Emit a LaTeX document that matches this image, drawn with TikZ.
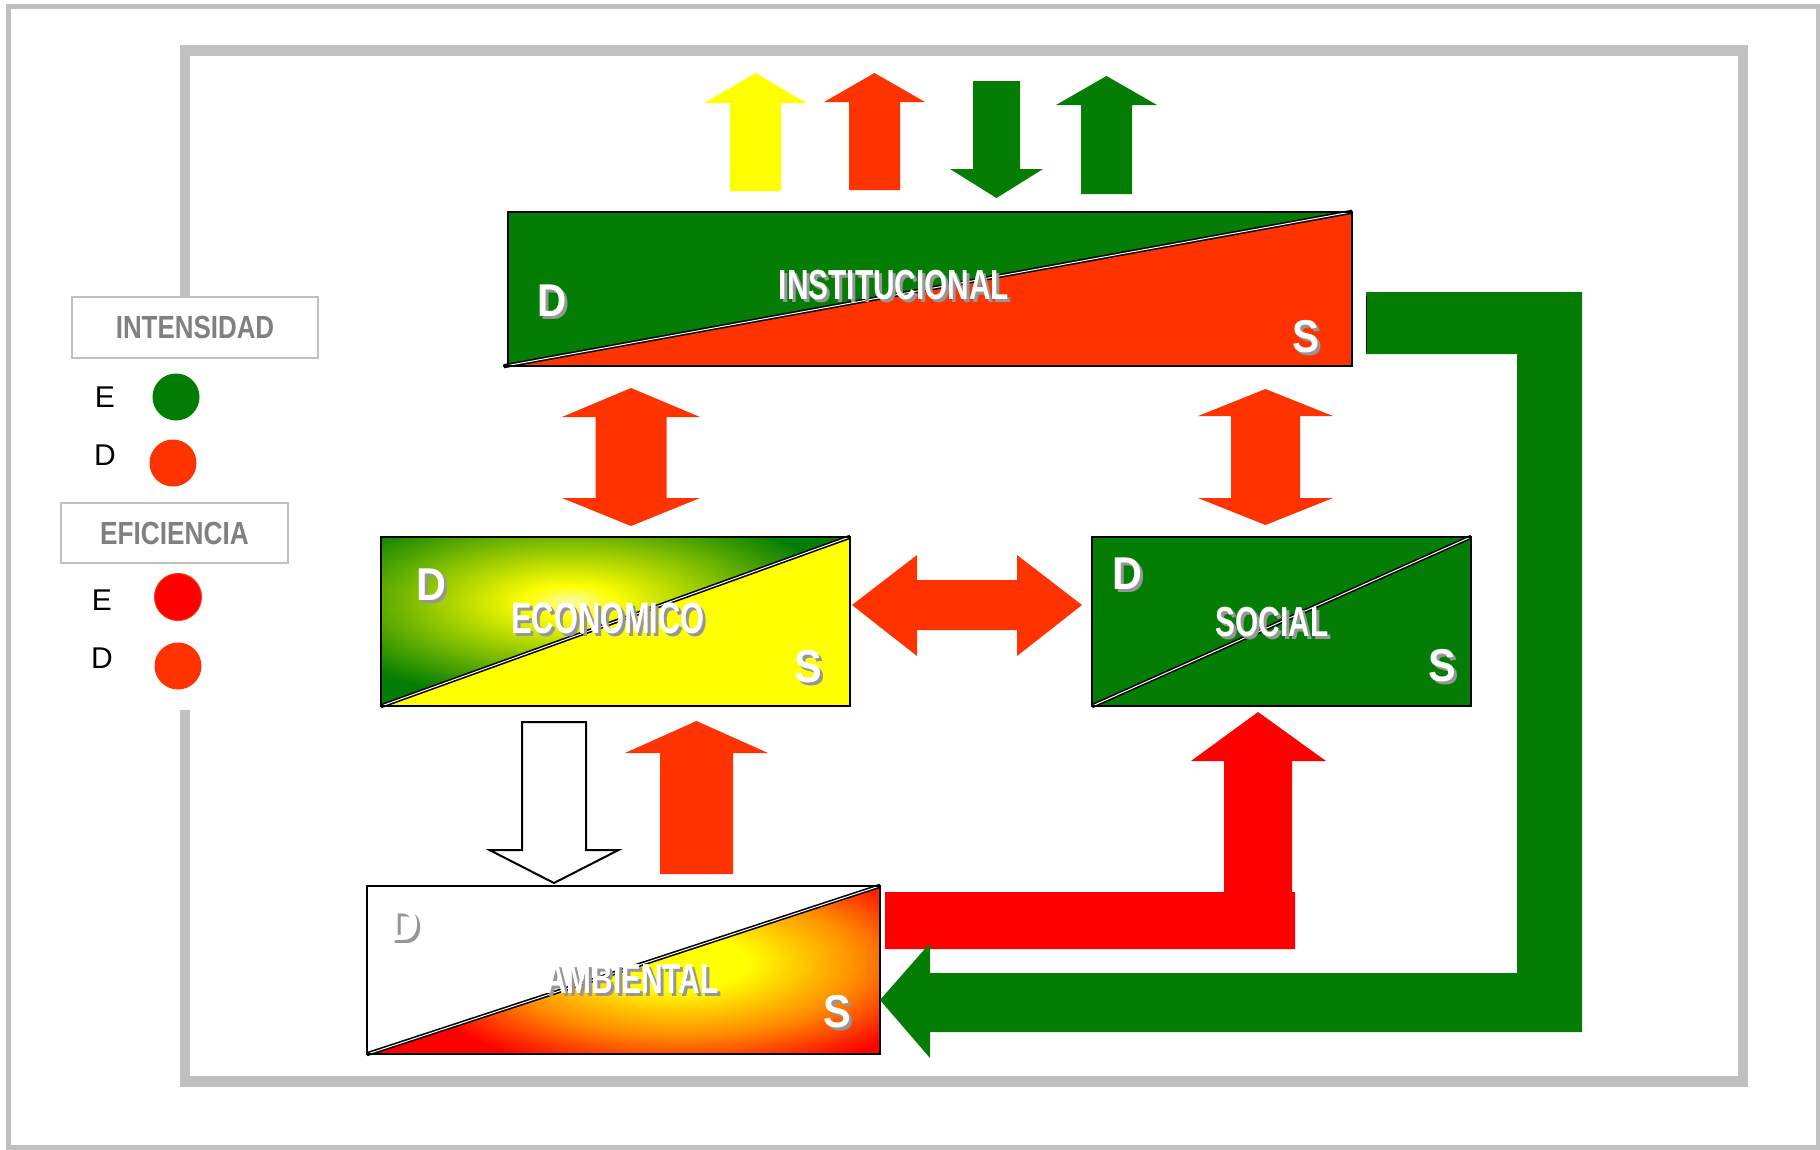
\documentclass[tikz,border=0pt]{standalone}
\usepackage{fontspec}
\setmainfont{Liberation Sans}
\usepackage{graphicx}
\usetikzlibrary{calc}
\definecolor{dgreen}{RGB}{3,125,3}
\definecolor{ored}{RGB}{255,51,0}
\definecolor{pred}{RGB}{255,0,0}
\definecolor{pyellow}{RGB}{255,255,0}
\definecolor{framegray}{RGB}{192,192,192}
\definecolor{shadowgray}{RGB}{150,150,150}
\definecolor{legendgray}{RGB}{128,128,128}
\definecolor{ecolight}{RGB}{250,250,170}
\definecolor{amborange}{RGB}{255,140,0}
\pgfdeclareradialshading{ecoshade}{\pgfpointorigin}{color(0bp)=(ecolight); color(4bp)=(pyellow); color(24bp)=(dgreen); color(50bp)=(dgreen)}
\pgfdeclareradialshading{ambshade}{\pgfpointorigin}{color(0bp)=(pyellow); color(6bp)=(pyellow); color(16bp)=(amborange); color(25bp)=(pred); color(50bp)=(pred)}
\newcommand{\uparrowblk}[8]{% style, cx, tip, base, headhw, shafthw, end
  \path[#1] (#2,#3) -- (#2+#5,#4) -- (#2+#6,#4) -- (#2+#6,#7) -- (#2-#6,#7) -- (#2-#6,#4) -- (#2-#5,#4) -- cycle;}
\newcommand{\dblvert}[8]{% color, cx, toptip, topbase, botbase, bottip, headhw, shafthw
  \fill[#1] (#2,#3) -- (#2+#7,#4) -- (#2+#8,#4) -- (#2+#8,#5) -- (#2+#7,#5) -- (#2,#6) -- (#2-#7,#5) -- (#2-#8,#5) -- (#2-#8,#4) -- (#2-#7,#4) -- cycle;}
\newcommand{\dstext}[6]{% name, x, y, size, xscale, text
  \node[inner sep=0pt, text=shadowgray, font=\fontsize{#4pt}{#4pt}\selectfont\bfseries] at (#2+3,#3+3) {\scalebox{#5}[1]{#6}};
  \node[inner sep=0pt, text=white, font=\fontsize{#4pt}{#4pt}\selectfont\bfseries] (#1) at (#2,#3) {\scalebox{#5}[1]{#6}};}
\begin{document}
\begin{tikzpicture}[x=1pt,y=-1pt,
  boxn/.style={rectangle, inner sep=0pt, draw=none},
  boxborder/.style={draw=black, line width=2.5pt},
  diag/.style={draw=black, line width=1.6pt, double=white, double distance=1pt},
  legbox/.style={rectangle, draw=framegray, line width=2pt, inner sep=0pt, text=legendgray, font=\fontsize{32pt}{32pt}\selectfont\bfseries},
  legletter/.style={inner sep=0pt, font=\fontsize{30pt}{30pt}\selectfont},
  dot/.style={circle, inner sep=0pt, minimum size=47pt}]
\useasboundingbox (0,0) rectangle (1820,1149);
\fill[white] (0,0) rectangle (1820,1149);
% frames
\draw[framegray, line width=5pt] (8,6.5) rectangle (1818,1147.5);
\draw[framegray, line width=10.5pt] (185,296) -- (185,50.5) -- (1743,50.5) -- (1743,1081.5) -- (185,1081.5) -- (185,710);
% legend
\node[legbox, minimum width=246pt, minimum height=61pt] (intens) at (195,327.5) {\scalebox{0.81}[1]{INTENSIDAD}};
\node[legletter] (ie) at (105,397) {E};
\node[dot, fill=dgreen] (iedot) at (176,397) {};
\node[legletter] (id) at (105,455) {D};
\node[dot, fill=ored] (iddot) at (173,463) {};
\node[legbox, minimum width=227pt, minimum height=60pt] (efic) at (174.5,533) {\scalebox{0.82}[1]{EFICIENCIA}};
\node[legletter] (ee) at (102,600) {E};
\node[dot, fill=pred, draw=ored, line width=1pt] (eedot) at (178,597) {};
\node[legletter] (ed) at (102,658) {D};
\node[dot, fill=ored] (eddot) at (178,666) {};
% INSTITUCIONAL
\node[boxn, minimum width=844pt, minimum height=154pt] (inst) at (930,289) {};
\fill[dgreen] (inst.south west) -- (inst.north west) -- (inst.north east) -- cycle;
\fill[ored] (inst.south west) -- (inst.south east) -- (inst.north east) -- cycle;
\draw[diag] ($(inst.south west)+(-4,0)$) -- (inst.north east);
\draw[boxborder] (inst.south west) rectangle (inst.north east);
\draw[black, line width=2.5pt] ($(inst.south west)+(-5,0)$) -- (inst.south west);
\dstext{instlbl}{894}{285}{42}{0.71}{INSTITUCIONAL}
\dstext{instd}{552}{301}{46}{0.88}{D}
\dstext{insts}{1306}{337}{46}{0.88}{S}
% ECONOMICO
\node[boxn, minimum width=469pt, minimum height=169pt] (eco) at (615.5,621.5) {};
\begin{scope}
\clip (eco.south west) -- (eco.north west) -- (eco.north east) -- cycle;
\fill[dgreen] (eco.south west) rectangle (eco.north east);
\shade[shading=ecoshade] (570,602) ellipse [x radius=280, y radius=105];
\end{scope}
\fill[pyellow] (eco.south west) -- (eco.south east) -- (eco.north east) -- cycle;
\draw[diag] (eco.south west) -- (eco.north east);
\draw[boxborder] (eco.south west) rectangle (eco.north east);
\dstext{ecolbl}{608}{618}{44}{0.70}{ECONOMICO}
\dstext{ecod}{431}{585}{46}{0.9}{D}
\dstext{ecos}{808}{667}{46}{0.9}{S}
% SOCIAL
\node[boxn, minimum width=379pt, minimum height=169pt] (soc) at (1281.5,621.5) {};
\fill[dgreen] (soc.south west) rectangle (soc.north east);
\draw[diag] (soc.south west) -- (soc.north east);
\draw[boxborder] (soc.south west) rectangle (soc.north east);
\dstext{soclbl}{1272}{622}{42}{0.71}{SOCIAL}
\dstext{socd}{1127}{574}{46}{0.9}{D}
\dstext{socs}{1442}{666}{46}{0.9}{S}
% AMBIENTAL
\node[boxn, minimum width=513pt, minimum height=168pt] (amb) at (623.5,970) {};
\fill[white] (amb.south west) rectangle (amb.north east);
\begin{scope}
\clip (amb.south west) -- (amb.south east) -- (amb.north east) -- cycle;
\fill[pred] (amb.south west) rectangle (amb.north east);
\shade[shading=ambshade] (680,962) ellipse [x radius=280, y radius=115];
\end{scope}
\draw[diag] (amb.south west) -- (amb.north east);
\draw[boxborder] (amb.south west) rectangle (amb.north east);
\dstext{amblbl}{632}{979}{42}{0.71}{AMBIENTAL}
\dstext{ambd}{404}{925}{46}{0.9}{D}
\dstext{ambs}{837}{1012}{46}{0.9}{S}
% top arrows
\uparrowblk{fill=pyellow}{755.5}{73}{103}{51}{25.5}{191}{}
\uparrowblk{fill=ored}{874.5}{73}{102}{50.5}{25.5}{190}{}
\uparrowblk{fill=dgreen}{996.5}{198}{169}{46.5}{23.5}{81}{}
\uparrowblk{fill=dgreen}{1106.5}{76}{105}{50.5}{25.5}{194}{}
% vertical double arrows
\dblvert{ored}{631}{388}{417}{498}{526}{69}{35.5}
\dblvert{ored}{1265.5}{389}{416}{498}{525}{67.5}{34.5}
% horizontal double arrow
\fill[ored] (852,605) -- (917,555) -- (917,580) -- (1017,580) -- (1017,555) -- (1082,605) -- (1017,656) -- (1017,630) -- (917,630) -- (917,656) -- cycle;
% economico - ambiental arrows
\uparrowblk{fill=white, draw=black, line width=2pt}{554}{883}{850}{64.5}{32}{722}{}
\uparrowblk{fill=ored}{696.5}{721}{753}{71.5}{36.5}{874}{}
% red L arrow to social
\fill[pred] (885,892) -- (1224,892) -- (1224,761) -- (1191,761) -- (1258,712) -- (1326,761) -- (1292,761) -- (1292,892) -- (1295,892) -- (1295,949) -- (885,949) -- cycle;
% green L arrow from institucional to ambiental
\fill[dgreen] (1366,292) -- (1582,292) -- (1582,1032) -- (930,1032) -- (930,1058) -- (880,1000) -- (930,943) -- (930,973) -- (1517,973) -- (1517,354) -- (1366,354) -- cycle;
\draw[black, line width=1pt] (1366,296) -- (1366,352);
\end{tikzpicture}
\end{document}
